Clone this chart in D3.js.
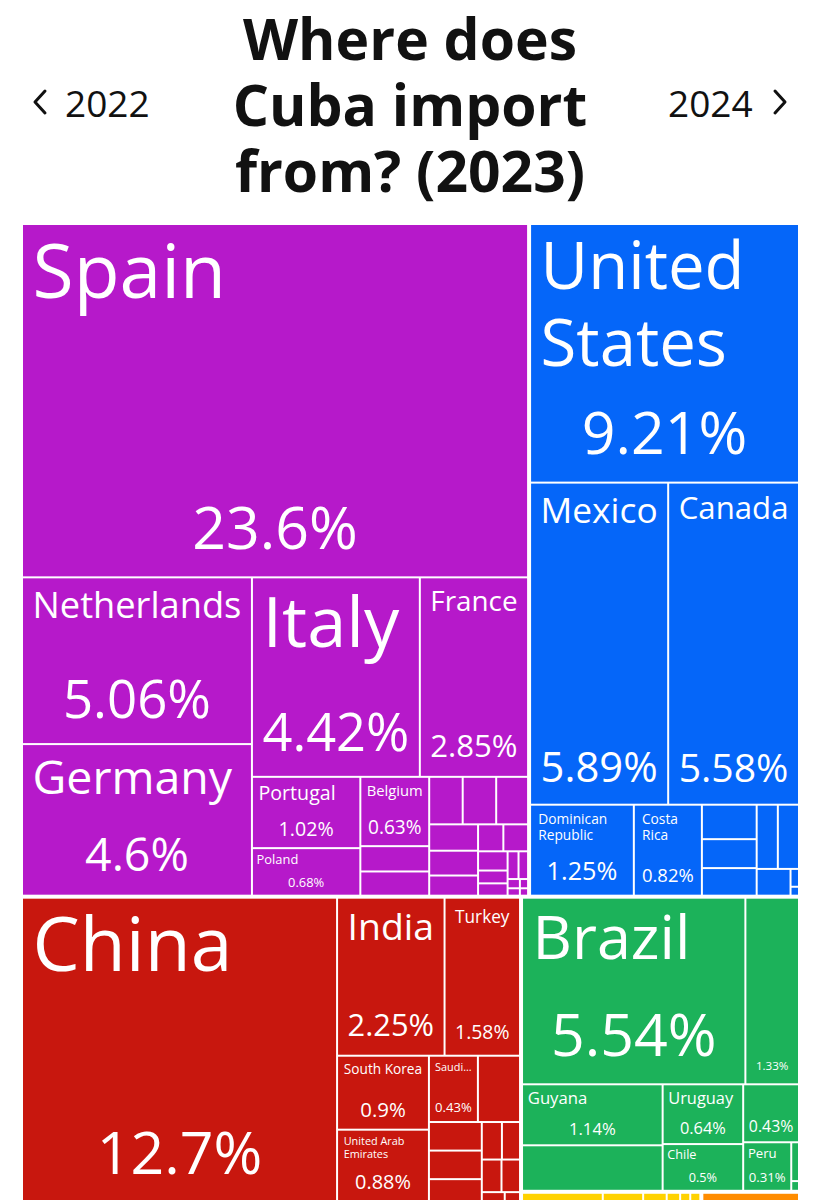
<!DOCTYPE html>
<html>
<head>
<meta charset="utf-8">
<script src="https://cdn.jsdelivr.net/npm/d3@7"></script>
<style>
  html, body { margin: 0; padding: 0; background: #ffffff; }
  svg { display: block; }
</style>
</head>
<body>
<svg id="chart" width="821" height="1200"></svg>
<script>
// ---------------- DATA ----------------
const titleLines = ["Where does", "Cuba import", "from? (2023)"];
const prevYear = "2022";
const nextYear = "2024";

const continents = ["Europe", "North America", "Asia", "South America", "Africa", "Oceania"];
const continentColors = ["#B619CA", "#0566F9", "#C8170E", "#1CB25A", "#FFD200", "#FF8C00"];

const europeNames = ["Spain", "Netherlands", "Germany", "Italy", "France", "Portugal", "Poland", "Belgium",
  "Switzerland", "United Kingdom", "Denmark", "Sweden", "Austria", "Greece", "Ireland", "Czechia",
  "Norway", "Slovenia", "Hungary", "Lithuania", "Romania", "Finland", "Bulgaria", "Ukraine",
  "Croatia", "Latvia", "Estonia"];
const europeValues = [23.6, 5.06, 4.6, 4.42, 2.85, 1.02, 0.68, 0.63,
  0.23, 0.22, 0.21, 0.21, 0.2, 0.17, 0.16, 0.13,
  0.09, 0.088, 0.075, 0.05, 0.048, 0.04, 0.035, 0.015,
  0.012, 0.01, 0.008];

const northAmericaNames = ["United States", "Mexico", "Canada", "Dominican Republic", "Costa Rica",
  "Panama", "Guatemala", "Honduras", "Jamaica", "Trinidad and Tobago", "El Salvador", "Bahamas", "Nicaragua"];
const northAmericaValues = [9.21, 5.89, 5.58, 1.25, 0.82,
  0.25, 0.21, 0.2, 0.18, 0.18, 0.12, 0.02, 0.01];

const asiaNames = ["China", "India", "Turkey", "South Korea", "United Arab Emirates", "Saudi Arabia",
  "Vietnam", "Japan", "Thailand", "Malaysia", "Indonesia", "Singapore", "Israel", "Pakistan", "Hong Kong", "Taiwan"];
const asiaValues = [12.7, 2.25, 1.58, 0.9, 0.88, 0.43,
  0.37, 0.2, 0.2, 0.16, 0.1, 0.09, 0.085, 0.08, 0.03, 0.02];

const southAmericaNames = ["Brazil", "Argentina", "Guyana", "Colombia", "Uruguay", "Chile", "Venezuela", "Peru", "Ecuador", "Paraguay"];
const southAmericaValues = [5.54, 1.33, 1.14, 0.85, 0.64, 0.5, 0.43, 0.31, 0.04, 0.01];

const africaNames = ["Algeria", "South Africa", "Egypt", "Morocco", "Angola", "Nigeria"];
const africaValues = [0.12, 0.06, 0.035, 0.02, 0.015, 0.015];

const oceaniaNames = ["New Zealand"];
const oceaniaValues = [0.145];

// countries whose label is not drawn in the original picture
const unlabeled = ["Colombia"];

const countryNames = [europeNames, northAmericaNames, asiaNames, southAmericaNames, africaNames, oceaniaNames];
const countryValues = [europeValues, northAmericaValues, asiaValues, southAmericaValues, africaValues, oceaniaValues];

// ---------------- LAYOUT ----------------
const FONT = '"Open Sans", "Noto Sans", sans-serif';
const svg = d3.select("#chart");
const TM = { x: 23, y: 225, w: 775, h: 976 };

// Title (one text element, one tspan per line)
svg.append("text")
  .attr("text-anchor", "middle")
  .attr("font-family", FONT)
  .attr("font-weight", 700)
  .attr("font-size", 57)
  .attr("fill", "#111111")
  .selectAll("tspan").data(titleLines).join("tspan")
  .attr("x", 410)
  .attr("y", (d, i) => 60 + i * 66)
  .text(d => d);

// Year navigation
svg.append("text").attr("x", 65).attr("y", 117)
  .attr("font-family", FONT).attr("font-size", 37).attr("fill", "#111111").text(prevYear);
svg.append("path").attr("d", "M45,91 L35,102 L45,113")
  .attr("fill", "none").attr("stroke", "#111111").attr("stroke-width", 3).attr("stroke-linecap", "round").attr("stroke-linejoin", "round");
svg.append("text").attr("x", 668).attr("y", 117)
  .attr("font-family", FONT).attr("font-size", 37).attr("fill", "#111111").text(nextYear);
svg.append("path").attr("d", "M775,91 L785,102 L775,113")
  .attr("fill", "none").attr("stroke", "#111111").attr("stroke-width", 3).attr("stroke-linecap", "round").attr("stroke-linejoin", "round");

// Hierarchy
const rootData = {
  name: "Cuba imports",
  children: continents.map((c, i) => ({
    name: c,
    color: continentColors[i],
    children: countryNames[i].map((n, j) => ({ name: n, value: countryValues[i][j] }))
  }))
};
const root = d3.hierarchy(rootData)
  .sum(d => d.children ? 0 : d.value)
  .sort((a, b) => b.value - a.value);

d3.treemap()
  .tile(d3.treemapSquarify)
  .size([TM.w, TM.h])
  .paddingInner(d => d.depth === 0 ? 4 : 2)(root);

const g = svg.append("g").attr("transform", `translate(${TM.x},${TM.y})`);
const leaves = root.leaves();

g.selectAll("rect").data(leaves).join("rect")
  .attr("x", d => d.x0)
  .attr("y", d => d.y0)
  .attr("width", d => Math.max(0, d.x1 - d.x0))
  .attr("height", d => Math.max(0, d.y1 - d.y0))
  .attr("fill", d => d.parent.data.color);

// ---------------- LABELS ----------------
const ctx = document.createElement("canvas").getContext("2d");
function em(text) {
  ctx.font = `400 100px ${FONT}`;
  return ctx.measureText(text).width / 100;
}
const fmt = d3.format(".3~r");
const NAME_MAX = 75, SHARE_MAX = 59, NAME_MIN = 10, SHARE_MIN = 11;

function labelLayout(name, pct, w, h) {
  const pad = Math.min(9.5, h * 0.08);
  const shareBox = Math.min(94, h * 0.5);
  const availW = w - 2 * pad;
  const sf = Math.min(SHARE_MAX, availW / em(pct), (shareBox - 2 * pad) / 1.2);
  if (sf < SHARE_MIN) return null;
  const nameArea = h - shareBox - 2 * pad;
  const words = name.split(" ");
  const n = words.length;
  let best = { font: 0, lines: [] };
  for (let mask = 0; mask < (1 << (n - 1)); mask++) {
    const lines = [];
    let cur = [words[0]];
    for (let i = 1; i < n; i++) {
      if (mask & (1 << (i - 1))) { lines.push(cur.join(" ")); cur = [words[i]]; }
      else cur.push(words[i]);
    }
    lines.push(cur.join(" "));
    const maxEm = d3.max(lines, l => em(l));
    const lh = lines.length === 1 ? 1.2 : 1.1 * lines.length;
    const f = Math.min(NAME_MAX, availW / maxEm, nameArea / lh);
    const better = f > best.font + 0.01 ||
      (Math.abs(f - best.font) <= 0.01 && lines.length === best.lines.length && em(lines[0]) > em(best.lines[0]));
    if (better) best = { font: f, lines };
  }
  if (best.font < NAME_MIN) {
    best = { font: 0, lines: [] };
    const f0 = Math.min(nameArea / 1.2, sf);
    for (let k = n - 1; k >= 1; k--) {
      const t = words.slice(0, k).join(" ") + "...";
      const f = Math.min(f0, availW / em(t));
      if (f >= NAME_MIN) { best = { font: f, lines: [t] }; break; }
    }
  }
  return { pad, sf, name: best };
}

leaves.forEach(d => {
  if (unlabeled.includes(d.data.name)) return;
  const w = d.x1 - d.x0, h = d.y1 - d.y0;
  const pct = fmt(d.data.value) + "%";
  const L = labelLayout(d.data.name, pct, w, h);
  if (!L) return;
  const lg = g.append("g").attr("font-family", FONT).attr("fill", "#ffffff");
  if (L.name.font > 0) {
    lg.append("text")
      .attr("font-size", L.name.font)
      .selectAll("tspan").data(L.name.lines).join("tspan")
      .attr("x", d.x0 + L.pad)
      .attr("y", (t, i) => d.y0 + L.pad + 0.84 * L.name.font + i * 1.17 * L.name.font)
      .text(t => t);
  }
  lg.append("text")
    .attr("x", (d.x0 + d.x1) / 2)
    .attr("y", d.y1 - L.pad - 0.3 * L.sf)
    .attr("text-anchor", "middle")
    .attr("font-size", L.sf)
    .text(pct);
});
</script>
</body>
</html>
